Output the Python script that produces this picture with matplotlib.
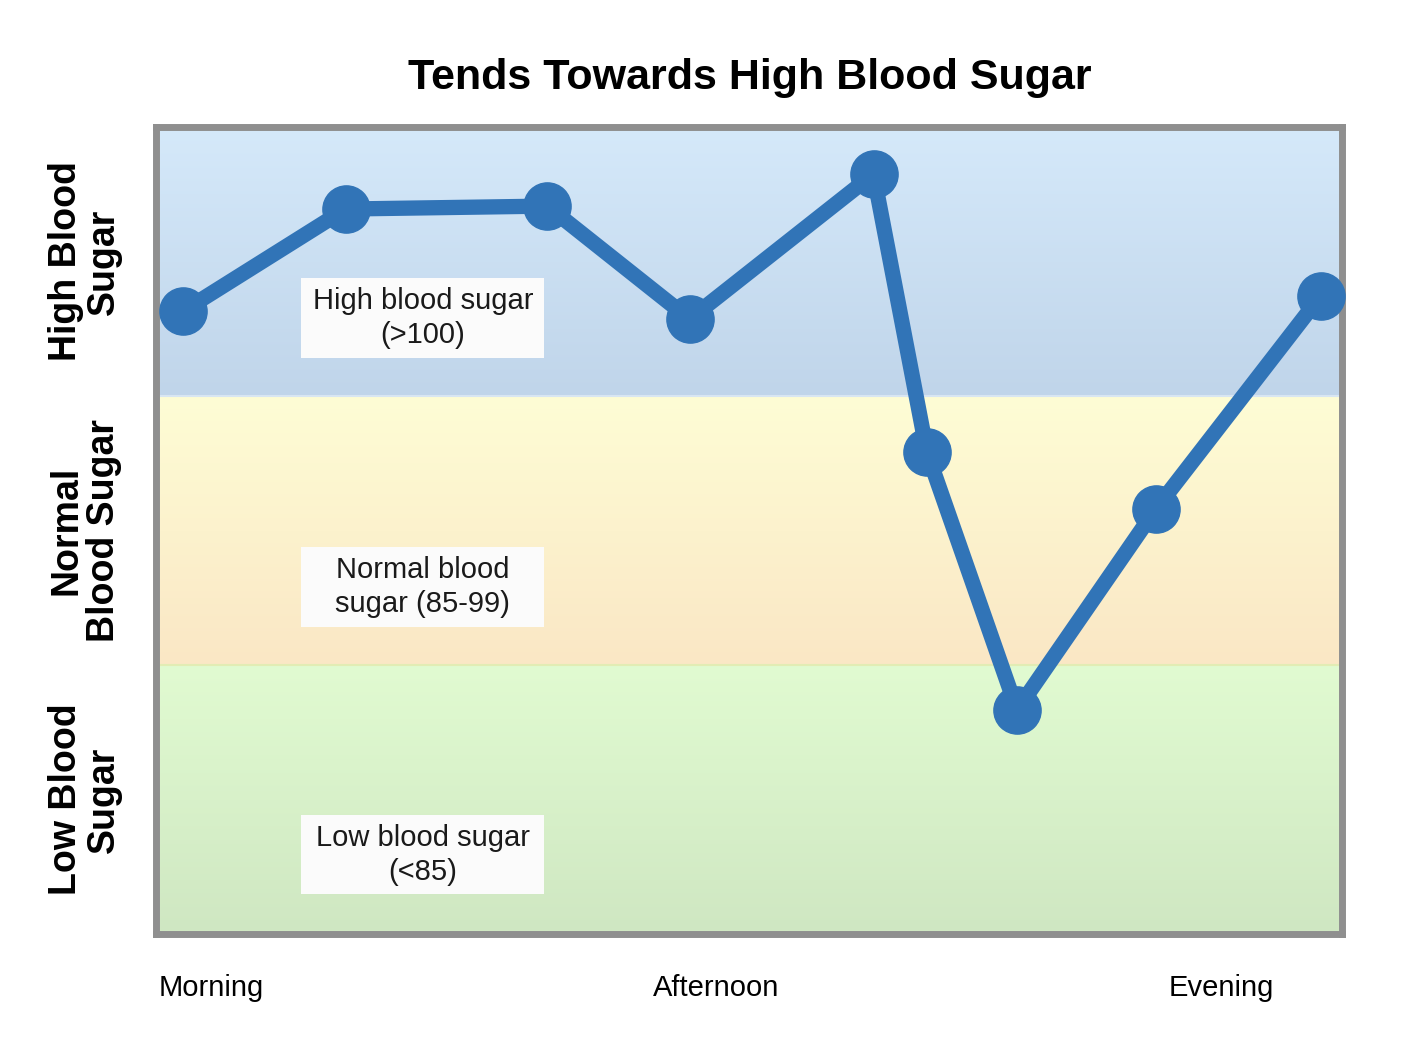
import numpy as np
import matplotlib.pyplot as plt
from matplotlib.colors import LinearSegmentedColormap
from matplotlib.patches import Rectangle

plt.rcParams['font.family'] = ['Liberation Sans', 'DejaVu Sans']

# ===== data =====
x_pos = [0.023, 0.160, 0.330, 0.450, 0.605, 0.650, 0.726, 0.843, 0.982]
level = [2.316, 2.695, 2.706, 2.286, 2.825, 1.792, 0.833, 1.580, 2.372]

zone_names = ["Low Blood\nSugar", "Normal\nBlood Sugar", "High Blood\nSugar"]
zone_boxes = ["Low blood sugar\n(<85)", "Normal blood\nsugar (85-99)", "High blood sugar\n(>100)"]
box_y = [0.294, 1.290, 2.290]
zone_top = ["#e1fbd1", "#fefdd5", "#d5e9fa"]
zone_bottom = ["#cfe7c2", "#fae7c5", "#c0d5ea"]

time_labels = ["Morning", "Afternoon", "Evening"]
time_ticks = [0.047, 0.472, 0.898]

fig = plt.figure(figsize=(14.06, 10.52), dpi=100)
ax = fig.add_axes([156 / 1406, 118 / 1052, 1186 / 1406, 807 / 1052])

# gradient bands
grad = np.linspace(0, 1, 256).reshape(-1, 1)
for i in range(3):
    cmap = LinearSegmentedColormap.from_list("b%d" % i, [zone_bottom[i], zone_top[i]])
    ax.imshow(grad, cmap=cmap, aspect="auto", origin="lower",
              extent=[0, 1, i, i + 1], zorder=0)
ax.axhline(2, color="#d8e6f2", lw=1.5, zorder=1)
ax.axhline(1, color="#e2ecb4", lw=1.5, zorder=1)

# label boxes (same width for all three)
bw, bh = 0.205, 0.294
for i in range(3):
    ax.add_patch(Rectangle((0.225 - bw / 2, box_y[i] - bh / 2), bw, bh,
                           fc="#fbfbfb", ec="none", zorder=2))
    ax.text(0.225, box_y[i], zone_boxes[i], ha="center", va="center",
            fontsize=21, color="#1a1a1a", linespacing=1.3, zorder=3)

# the line
ax.plot(x_pos, level, color="#3174b7", lw=11, marker="o", markersize=34,
        solid_joinstyle="round", zorder=5, clip_on=False)

ax.set_xlim(0, 1)
ax.set_ylim(0, 3)
ax.set_yticks([])
ax.set_xticks(time_ticks)
ax.set_xticklabels(time_labels, fontsize=21)
ax.tick_params(axis="x", length=0, pad=29)
for s in ax.spines.values():
    s.set_linewidth(5)
    s.set_color("#8f8f8f")
    s.set_zorder(4)

# zone names on the left
for i in range(3):
    ax.text(-0.060, i + 0.5, zone_names[i], rotation=90, ha="center", va="center",
            fontsize=27, fontweight="bold", linespacing=1.05,
            transform=ax.get_yaxis_transform())

fig.text(0.533, 0.926, "Tends Towards High Blood Sugar", ha="center", va="center",
         fontsize=31, fontweight="bold")

fig.savefig("out.png", dpi=100)
